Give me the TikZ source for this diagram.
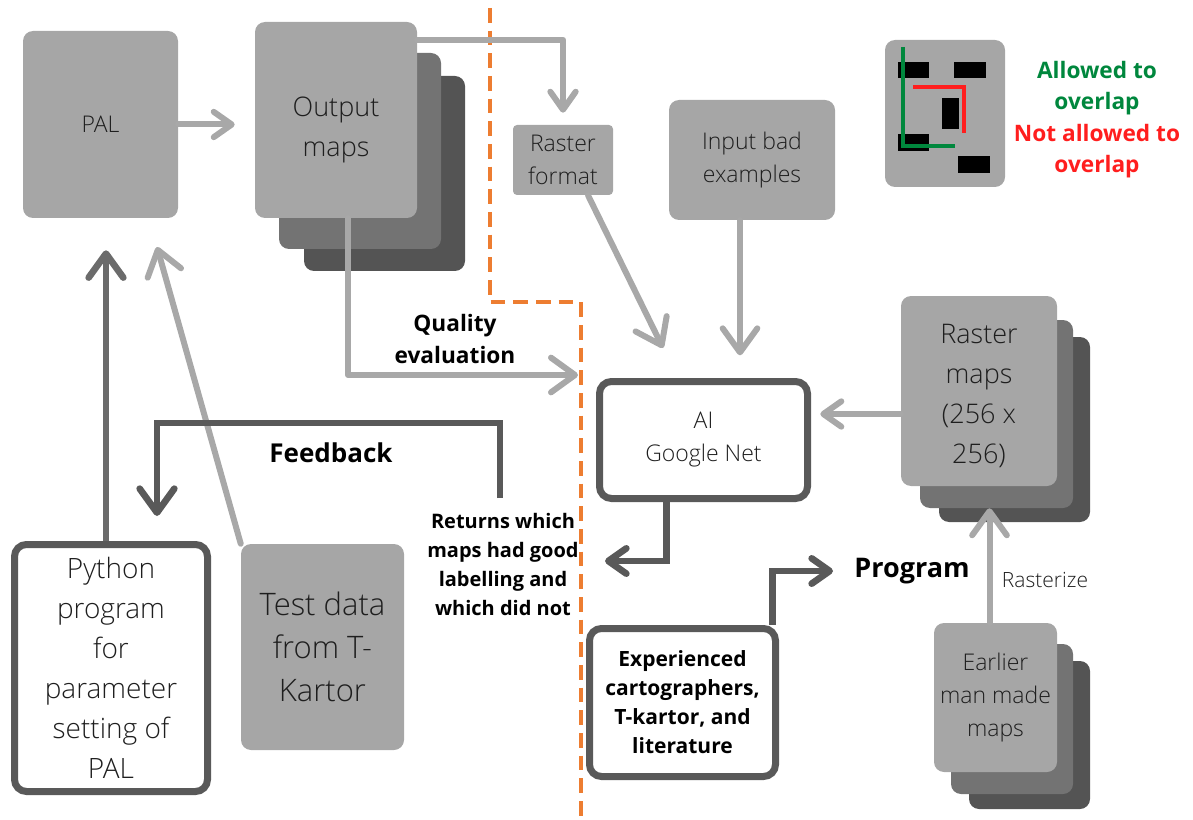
\documentclass[tikz,border=0pt]{standalone}
\usepackage{fontspec}
\setmainfont{Open Sans}[UprightFont={* Light}, BoldFont={* Bold}]
\usetikzlibrary{arrows.meta,calc}

\definecolor{boxlight}{HTML}{A6A6A6}
\definecolor{boxmid}{HTML}{737373}
\definecolor{boxdark}{HTML}{545454}
\definecolor{rimdark}{HTML}{595959}
\definecolor{arrlight}{HTML}{A8A8A8}
\definecolor{arrpy}{HTML}{6B6B6B}
\definecolor{divorange}{HTML}{ED7D31}
\definecolor{okgreen}{HTML}{00873D}
\definecolor{nored}{HTML}{FF1E1E}
\definecolor{txt}{HTML}{1E1E1E}

% font sizes (pixel sizes times 0.75)
\newcommand\fsBig{\fontsize{20.25pt}{30pt}\selectfont}
\newcommand\fsPy{\fontsize{21pt}{30pt}\selectfont}
\newcommand\fsTest{\fontsize{23.25pt}{32.25pt}\selectfont}
\newcommand\fsMid{\fontsize{17.25pt}{24.75pt}\selectfont}
\newcommand\fsPal{\fontsize{17.25pt}{24pt}\selectfont}
\newcommand\fsQual{\fontsize{17pt}{24pt}\selectfont}
\newcommand\fsFb{\fontsize{19.5pt}{24pt}\selectfont}
\newcommand\fsProg{\fontsize{20.25pt}{24pt}\selectfont}
\newcommand\fsRet{\fontsize{15pt}{21.75pt}\selectfont}
\newcommand\fsExp{\fontsize{15.75pt}{21.75pt}\selectfont}
\newcommand\fsRz{\fontsize{15.75pt}{20pt}\selectfont}
\newcommand\fsLeg{\fontsize{17pt}{23.25pt}\selectfont}

\begin{document}
\begin{tikzpicture}[x=0.75pt,y=-0.75pt,
  sz/.style 2 args={minimum width=#1*0.75pt, minimum height=#2*0.75pt},
  lbox/.style={fill=boxlight, draw=none, rounded corners=7.5pt, inner sep=0pt, align=center, text=txt},
  mbox/.style={fill=boxmid, draw=none, rounded corners=7.5pt, inner sep=0pt},
  dbox/.style={fill=boxdark, draw=none, rounded corners=7.5pt, inner sep=0pt},
  wbox/.style={fill=white, draw=rimdark, line width=5.25pt, rounded corners=9pt, inner sep=0pt, align=center, text=txt},
  smalltip/.style={-{Straight Barb[length=13.5pt,width=19pt,round]}},
  bigtip/.style={-{Straight Barb[length=18pt,width=26pt,round]}},
  lgs/.style={draw=arrlight, line width=4.5pt, line cap=round, line join=round, smalltip},
  lgb/.style={draw=arrlight, line width=4.5pt, line cap=round, line join=round, bigtip},
  dks/.style={draw=rimdark, line width=5pt, line join=miter, smalltip},
  dkb/.style={draw=rimdark, line width=5pt, line join=miter, bigtip},
  pyarrow/.style={draw=arrpy, line width=5pt, bigtip},
  divider/.style={draw=divorange, line width=2.4pt, dash pattern=on 11pt off 6pt},
  lbl/.style={align=center, text=black, inner sep=2pt}
]
\useasboundingbox (0,0) rectangle (1193,820);

% dashed divider between the two halves
\draw[divider] (490,8) -- (490,302) -- (581,302) -- (581,820);

% left half
\node[lbox, sz={155}{187}, font=\fsPal] (pal) at (100.5,124.5) {PAL};

\node[dbox, sz={161}{195}] (outC) at (384.5,173.5) {};
\node[mbox, sz={162}{196}] (outB) at (360,151) {};
\node[lbox, sz={162}{196}, font=\fsBig] (outA) at (336,120) {\rule{0pt}{30pt}Output\\maps};

\node[wbox, sz={193}{247}, font=\fsPy] (py) at (111,668) {Python\\program\\for\\parameter\\setting of\\PAL};
\node[lbox, sz={163}{206}, font=\fsTest] (td) at (322.5,647) {Test data\\from T-\\Kartor};

% right half
\node[lbox, rounded corners=3pt, sz={100}{70}, font=\fsMid] (rf) at (563,160) {Raster\\format};
\node[lbox, sz={166}{120}, font=\fsMid] (inb) at (752,160) {Input bad\\examples};
\node[wbox, sz={208}{117}, font=\fsMid] (ai) at (703.5,440) {AI\\Google Net};

\node[dbox, sz={151}{185}] (rmC) at (1014.5,429.5) {};
\node[mbox, sz={153}{188}] (rmB) at (996.5,414) {};
\node[lbox, sz={156}{190}, font=\fsBig] (rmA) at (979,391) {\rule{0pt}{22pt}Raster\\maps\\(256 x\\256)};

\node[dbox, sz={121}{148}] (emC) at (1029.5,735) {};
\node[mbox, sz={122}{150}] (emB) at (1012,719) {};
\node[lbox, sz={123}{149}, font=\fsMid] (emA) at (995.5,697.5) {Earlier\\man made\\maps};

\node[wbox, sz={186}{148}, font=\fsExp\bfseries, text=black] (exp) at (682.5,702.5) {Experienced\\cartographers,\\T-kartor, and\\literature};

% legend: label boxes with allowed / forbidden overlap zones
\node[lbox, sz={120}{147}] (leg) at (945,113.5) {};
\fill[black] (898,62) rectangle (929,78);
\fill[black] (954,62) rectangle (986,78);
\fill[black] (942,98) rectangle (959,129);
\fill[black] (898,134) rectangle (929,151);
\fill[black] (958,156) rectangle (990,173);
\draw[okgreen, line width=3pt] (903,47) -- (903,146) -- (955,146);
\draw[nored, line width=3pt] (913,87) -- (964,87) -- (964,133);
\node[lbl, font=\fsLeg\bfseries, text=okgreen] (legok) at (1097,88) {Allowed to\\overlap};
\node[lbl, font=\fsLeg\bfseries, text=nored] (legno) at (1097,151) {Not allowed to\\overlap};

% edge labels
\node[lbl, font=\fsQual\bfseries] (qual) at (455,339) {Quality\\evaluation};
\node[lbl, font=\fsFb\bfseries] (fb) at (331,453) {Feedback};
\node[lbl, font=\fsRet\bfseries] (ret) at (503,564) {Returns which\\maps had good\\labelling and\\which did not};
\node[lbl, font=\fsProg\bfseries] (prog) at (912,571) {Program};
\node[lbl, font=\fsRz, text=txt] (rzl) at (1045,580) {Rasterize};

% connectors
\draw[lgs, shorten >=15pt] (pal.east) -- (pal.east -| outA.west);

\coordinate (o1) at ($(outA.north east)+(0,18)$);
\draw[lgs, shorten >=9pt] (o1) -| (rf.north);

\coordinate (r1) at ($(rf.south)+(25,0)$);
\coordinate (r2) at (663,348);
\draw[lgb] (r1) -- (r2);

\coordinate (i1) at ($(inb.south)+(-12,0)$);
\draw[lgb, shorten >=17pt] (i1) -- (i1 |- ai.north);

\coordinate (m1) at ($(rmA.west)+(0,23)$);
\draw[lgs, shorten >=7pt] (m1) -- (m1 -| ai.east);

\coordinate (z1) at ($(emA.north)+(-6,0)$);
\draw[lgb] (z1) -- (z1 |- rmB.south);

\coordinate (y1) at ($(py.north)+(-5,0)$);
\draw[pyarrow, shorten >=24pt] (y1) -- (y1 |- pal.south);

\coordinate (t2) at (157,247);
\draw[lgb] (td.north west) -- (t2);

\coordinate (q1) at ($(outA.south)+(12,0)$);
\coordinate (q2) at (578,375);
\draw[lgb] (q1) |- (q2);

\coordinate (f1) at (500,498);
\coordinate (f2) at (157,516);
\draw[dkb] (f1) -- ++(0,-75) -| (f2);

\coordinate (a1) at ($(ai.south)+(-37,0)$);
\coordinate (a2) at (605,561);
\draw[dks] (a1) |- (a2);

\coordinate (p1) at ($(exp.north)+(90,0)$);
\coordinate (p2) at (833,571);
\draw[dks] (p1) |- (p2);
\end{tikzpicture}
\end{document}
